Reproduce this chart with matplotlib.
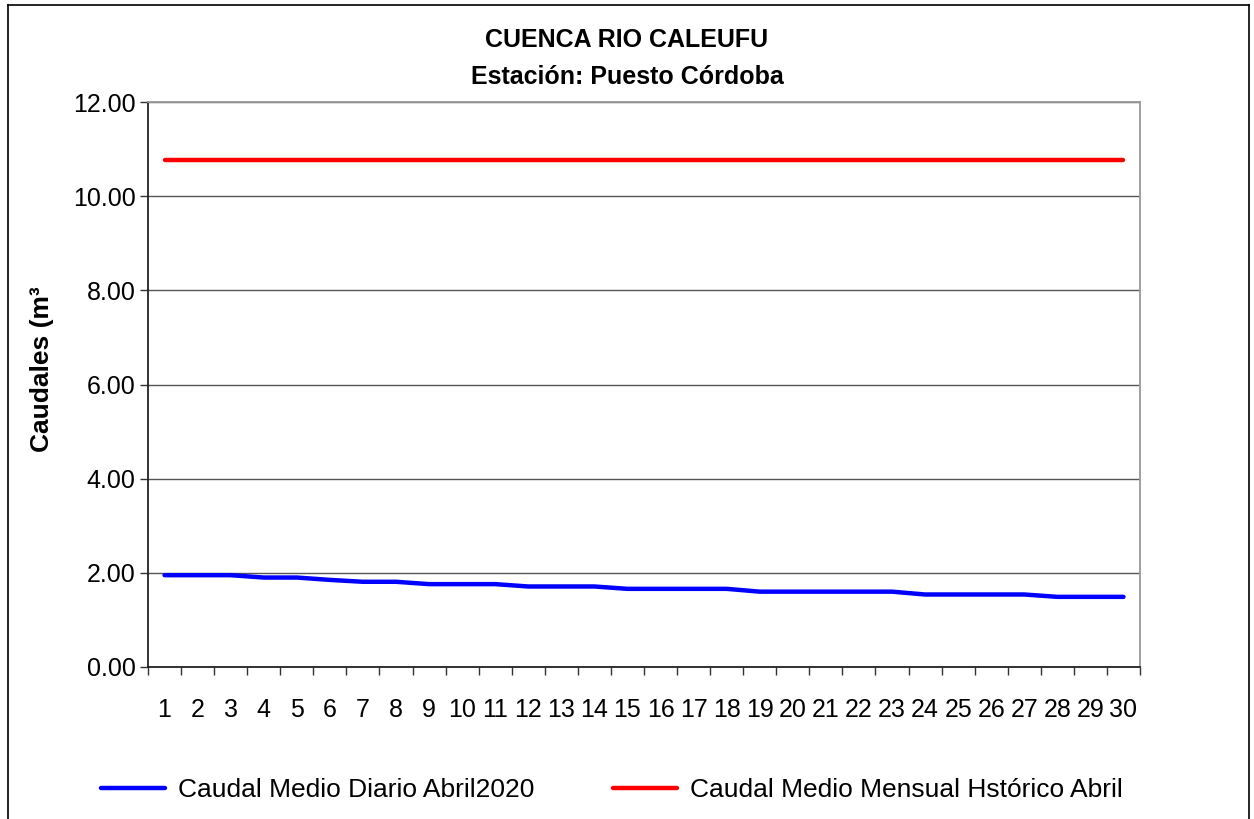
import matplotlib
matplotlib.use("Agg")
import matplotlib.pyplot as plt
from matplotlib.lines import Line2D

plt.rcParams['font.family'] = ['Liberation Sans', 'DejaVu Sans']

days = [str(d) for d in range(1, 31)]
caudal_diario = [1.95, 1.95, 1.95, 1.90, 1.90, 1.85, 1.81, 1.81, 1.76, 1.76,
                 1.76, 1.71, 1.71, 1.71, 1.66, 1.66, 1.66, 1.66, 1.60, 1.60,
                 1.60, 1.60, 1.60, 1.54, 1.54, 1.54, 1.54, 1.49, 1.49, 1.49]
caudal_historico = [10.77] * 30
yticks = [0, 2, 4, 6, 8, 10, 12]

fig = plt.figure(figsize=(12.54, 8.19), dpi=100)
ax = fig.add_axes([148/1254, 1 - 667/819, (1140-148)/1254, (667-102)/819])

x = list(range(len(days)))
ax.plot(x, caudal_diario, color='#0000ff', lw=3.2, solid_capstyle='round',
        label='Caudal Medio Diario Abril2020')
ax.plot(x, caudal_historico, color='#ff0000', lw=3.2, solid_capstyle='round',
        label='Caudal Medio Mensual Hstórico Abril')

ax.set_xlim(-0.5, len(days) - 0.5)
ax.set_ylim(0, 12)
ax.set_yticks(yticks)
ax.set_yticklabels([f"{v:.2f}" for v in yticks])
ax.set_xticks(x)
ax.set_xticklabels(days)
ax.set_xticks([i - 0.5 for i in range(len(days) + 1)], minor=True)
ax.tick_params(axis='x', which='major', length=0, pad=22, labelsize=18)
ax.tick_params(axis='x', which='minor', length=6, width=1, color='#333333')
ax.tick_params(axis='y', length=6, width=1, color='#333333', labelsize=18, pad=3)

ax.yaxis.grid(True, color='#555555', lw=1)
ax.set_axisbelow(True)
ax.spines['left'].set_color('#222222')
ax.spines['bottom'].set_color('#222222')
ax.spines['top'].set_color('#999999')
ax.spines['right'].set_color('#999999')
for s in ax.spines.values():
    s.set_linewidth(1.3)

fig.text(42/1254, 1 - 452/819, 'Caudales (m³', rotation=90, ha='center', va='bottom',
         fontsize=19, fontweight='bold')

fig.text(0.5, 1 - 40/819, 'CUENCA RIO CALEUFU', ha='center', va='center',
         fontsize=18, fontweight='bold')
fig.text(0.5, 1 - 77/819, 'Estación: Puesto Córdoba', ha='center', va='center',
         fontsize=18, fontweight='bold')

handles = [Line2D([0], [0], color='#0000ff', lw=3.2, solid_capstyle='round'),
           Line2D([0], [0], color='#ff0000', lw=3.2, solid_capstyle='round')]
fig.legend(handles, ['Caudal Medio Diario Abril2020', 'Caudal Medio Mensual Hstórico Abril'],
           loc='center', bbox_to_anchor=(612/1254, 1 - 790/819), ncol=2, frameon=False,
           fontsize=19, handlelength=2.4, columnspacing=3.0, handletextpad=0.5)

# figure border
fig.add_artist(Line2D([8/1254, 8/1254], [0, 1 - 5/819], color='black', lw=1.2))
fig.add_artist(Line2D([8/1254, 1249/1254], [1 - 5/819, 1 - 5/819], color='black', lw=1.2))
fig.add_artist(Line2D([1249/1254, 1249/1254], [0, 1 - 5/819], color='black', lw=1.2))

fig.savefig('out.png', dpi=100)
